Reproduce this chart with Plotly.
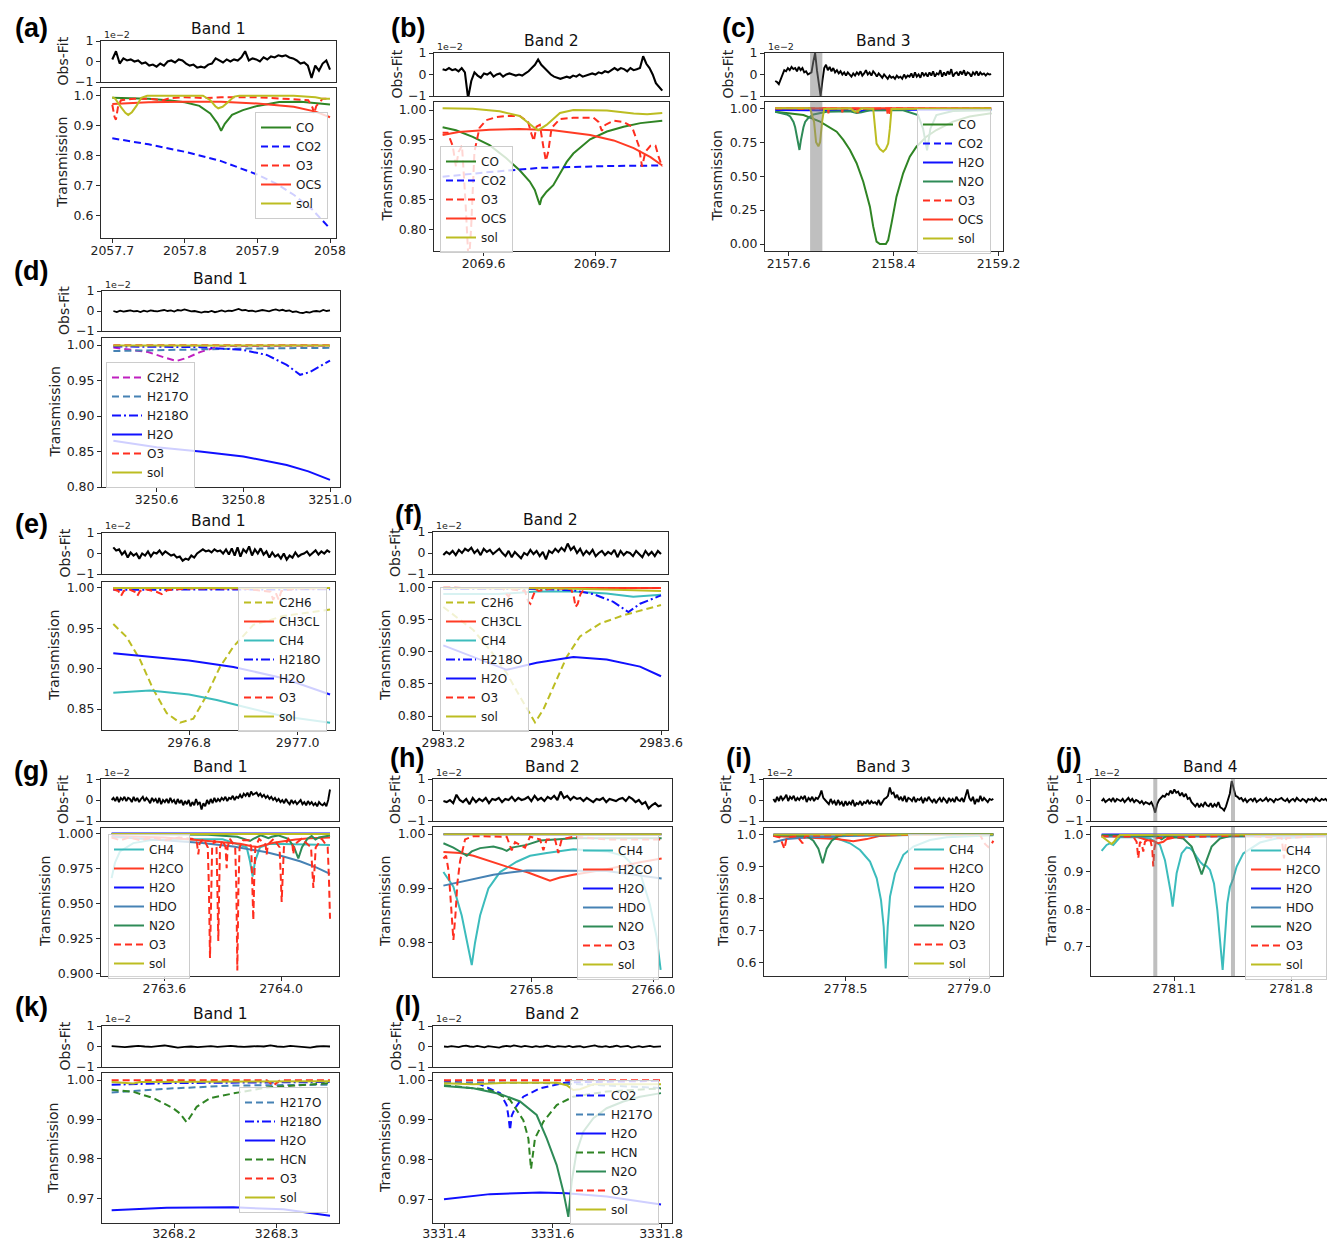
import numpy as np
import plotly.graph_objects as go

W, H = 1327, 1241          # target picture size
FW, FH = W, H
FONT = "DejaVu Sans"

# ====================== DATA ======================
res_yticks = [-1, 0, 1]
res_ylabels = ["\u22121", "0", "1"]

# ---- (a) Band 1 ----
a_xticks = [2057.7, 2057.8, 2057.9, 2058.0]
a_xlabels = ["2057.7", "2057.8", "2057.9", "2058"]
a_yticks = [0.6, 0.7, 0.8, 0.9, 1.0]
a_ylabels = ["0.6", "0.7", "0.8", "0.9", "1.0"]
a_res_span = [2057.70, 2058.00]
a_res = [0.1, 0.5, -0.1, 0.15, 0.05, 0.1, 0.0, 0.05, -0.1, -0.05, -0.2, -0.15, -0.25, -0.1, -0.2, 0.0,
         0.05, -0.05, 0.1, 0.05, -0.1, -0.2, -0.15, -0.3, -0.25, -0.3, -0.15, -0.1, 0.15, 0.05, -0.05,
         0.1, 0.0, 0.1, 0.05, 0.2, 0.5, 0.05, 0.15, 0.1, 0.0, 0.2, 0.1, 0.25, 0.2, 0.3, 0.25, 0.3, 0.2,
         0.15, 0.05, -0.1, -0.05, -0.2, -0.8, -0.2, -0.45, -0.1, 0.05, -0.4]
a_CO = [(2057.70, 0.993), (2057.75, 0.99), (2057.78, 0.984), (2057.80, 0.978), (2057.82, 0.966),
        (2057.835, 0.941), (2057.845, 0.908), (2057.85, 0.883), (2057.855, 0.906), (2057.865, 0.936),
        (2057.88, 0.952), (2057.90, 0.966), (2057.93, 0.979), (2057.96, 0.98), (2058.00, 0.971)]
a_CO2 = [(2057.70, 0.858), (2057.75, 0.838), (2057.80, 0.813), (2057.85, 0.782), (2057.90, 0.737),
         (2057.925, 0.708), (2057.95, 0.670), (2057.975, 0.622), (2058.00, 0.557)]
a_O3 = [(2057.700, 0.97), (2057.703, 0.93), (2057.705, 0.92), (2057.708, 0.965), (2057.712, 0.985),
        (2057.73, 0.99), (2057.75, 0.99), (2057.77, 0.985), (2057.78, 0.992), (2057.80, 0.995),
        (2057.83, 0.992), (2057.85, 0.995), (2057.90, 0.995), (2057.94, 0.99), (2057.97, 0.985),
        (2057.976, 0.96), (2057.978, 0.94), (2057.981, 0.965), (2057.99, 0.99), (2058.0, 0.99)]
a_OCS = [(2057.70, 0.972), (2057.75, 0.978), (2057.80, 0.98), (2057.85, 0.98), (2057.90, 0.974),
         (2057.95, 0.963), (2057.98, 0.947), (2058.00, 0.928)]
a_sol = [(2057.700, 0.995), (2057.704, 0.99), (2057.712, 0.962), (2057.718, 0.943), (2057.722, 0.936),
         (2057.727, 0.945), (2057.733, 0.965), (2057.740, 0.993), (2057.748, 1.0), (2057.825, 1.0),
         (2057.835, 0.985), (2057.842, 0.965), (2057.846, 0.958), (2057.852, 0.963), (2057.86, 0.98),
         (2057.868, 0.997), (2057.875, 1.0), (2057.95, 1.0), (2057.98, 0.995), (2057.99, 0.99),
         (2058.0, 0.99)]

# ---- (b) Band 2 ----
b_xticks = [2069.6, 2069.7]
b_xlabels = ["2069.6", "2069.7"]
b_yticks = [0.80, 0.85, 0.90, 0.95, 1.00]
b_ylabels = ["0.80", "0.85", "0.90", "0.95", "1.00"]
b_res_span = [2069.5635, 2069.7596]
b_res = [0.25, 0.2, 0.3, 0.2, 0.25, 0.15, 0.3, 0.1, -1.1, -0.3, 0.1, -0.05, -0.15, 0.05, 0.0, 0.1, -0.1,
         0.0, 0.05, -0.1, 0.0, 0.05, 0.0, -0.05, 0.0, -0.05, 0.05, 0.15, 0.3, 0.45, 0.7, 0.45, 0.3, 0.15,
         0.0, -0.1, -0.15, -0.2, -0.15, -0.1, -0.15, -0.05, -0.1, 0.0, -0.1, -0.05, 0.0, 0.05, 0.0, 0.1,
         0.05, 0.15, 0.1, 0.2, 0.3, 0.2, 0.3, 0.25, 0.15, 0.3, 0.2, 0.25, 0.3, 0.85, 0.5, 0.3, 0.0, -0.4,
         -0.6, -0.75]
b_CO = [(2069.5635, 0.971), (2069.5754, 0.966), (2069.5904, 0.955), (2069.6054, 0.941),
        (2069.6204, 0.919), (2069.6323, 0.899), (2069.6413, 0.88), (2069.6458, 0.866),
        (2069.6488, 0.849), (2069.6503, 0.841), (2069.6518, 0.852), (2069.6563, 0.863),
        (2069.6623, 0.874), (2069.6683, 0.894), (2069.6743, 0.913), (2069.6802, 0.927),
        (2069.6952, 0.951), (2069.7102, 0.964), (2069.7251, 0.972), (2069.7401, 0.978),
        (2069.7596, 0.982)]
b_CO2 = [(2069.5635, 0.888), (2069.6054, 0.896), (2069.6503, 0.903), (2069.7102, 0.906),
         (2069.7596, 0.907)]
b_O3 = [(2069.5635, 0.962), (2069.568, 0.962), (2069.5725, 0.94), (2069.5754, 0.905),
        (2069.5778, 0.93), (2069.5808, 0.94), (2069.5838, 0.85), (2069.5868, 0.74), (2069.5889, 0.80),
        (2069.5919, 0.93), (2069.5964, 0.97), (2069.6024, 0.983), (2069.6114, 0.988),
        (2069.6204, 0.99), (2069.6323, 0.99), (2069.6398, 0.98), (2069.6428, 0.96), (2069.6449, 0.948),
        (2069.6473, 0.972), (2069.6503, 0.975), (2069.6533, 0.94), (2069.6557, 0.915),
        (2069.6578, 0.93), (2069.6608, 0.97), (2069.6683, 0.985), (2069.6802, 0.987),
        (2069.6982, 0.987), (2069.7027, 0.98), (2069.7057, 0.965), (2069.7087, 0.975),
        (2069.7162, 0.982), (2069.7251, 0.98), (2069.7326, 0.972), (2069.7386, 0.94),
        (2069.7416, 0.905), (2069.7446, 0.93), (2069.7491, 0.94), (2069.7536, 0.94),
        (2069.7566, 0.92), (2069.7596, 0.905)]
b_OCS = [(2069.5635, 0.958), (2069.5778, 0.963), (2069.6054, 0.967), (2069.6323, 0.968),
         (2069.6623, 0.966), (2069.6952, 0.958), (2069.7162, 0.949), (2069.7341, 0.936),
         (2069.7491, 0.921), (2069.7596, 0.907)]
b_sol = [(2069.5635, 1.003), (2069.5904, 1.002), (2069.6144, 0.998), (2069.6323, 0.99),
         (2069.6443, 0.972), (2069.6488, 0.966), (2069.6563, 0.975), (2069.6683, 0.995),
         (2069.6802, 1.0), (2069.7102, 0.999), (2069.7341, 0.994), (2069.7461, 0.993),
         (2069.7596, 0.995)]

# ---- (c) Band 3 ----
c_xticks = [2157.6, 2158.4, 2159.2]
c_xlabels = ["2157.6", "2158.4", "2159.2"]
c_yticks = [0.0, 0.25, 0.5, 0.75, 1.0]
c_ylabels = ["0.00", "0.25", "0.50", "0.75", "1.00"]
c_bands = [(2157.7646, 2157.858)]
c_res_span = [2157.4987, 2159.1443]
c_res = [-0.3, -0.35, -0.45, -0.2, 0.05, 0.2, 0.15, 0.3, 0.2, 0.35,
         0.25, 0.3, 0.15, 0.35, 0.2, 0.3, 0.1, 0.15, 0.0, 0.05,
         0.1, 0.6, 1.0, 0.2, -0.5, -1.0, -0.3, 0.3, 0.45, 0.2,
         0.35, 0.15, 0.3, 0.1, 0.2, 0.05, 0.15, 0.0, 0.1, -0.05,
         0.1, 0.0, -0.1, 0.05, -0.05, 0.1, 0.0, 0.15, -0.05, 0.05,
         0.2, 0.0, 0.1, -0.05, 0.15, 0.05, -0.1, 0.05, -0.05, -0.15,
         0.0, -0.1, -0.2, -0.05, -0.15, -0.1, -0.2, -0.05, -0.15, -0.1,
         -0.2, 0.0, -0.15, -0.05, -0.1, 0.05, -0.15, 0.1, -0.1, 0.0,
         -0.15, 0.1, -0.05, 0.05, -0.1, 0.1, -0.05, 0.15, -0.1, 0.05,
         0.0, 0.2, -0.1, 0.1, -0.05, 0.15, 0.0, 0.25, -0.1, 0.05,
         0.1, -0.05, 0.15, 0.0, 0.2, -0.05, 0.1, 0.05, -0.1, 0.1,
         0.0, 0.15, -0.05, 0.1, 0.0, 0.05, -0.05, 0.05, 0.0, 0.02]
c_CO = [(2157.4987, 0.975), (2157.7139, 0.951), (2157.8405, 0.902), (2157.9671, 0.828),
        (2158.0177, 0.767), (2158.0684, 0.693), (2158.119, 0.595), (2158.1696, 0.459),
        (2158.2203, 0.275), (2158.2456, 0.128), (2158.2709, 0.017), (2158.2962, 0.0),
        (2158.3418, 0.0), (2158.3595, 0.029), (2158.3848, 0.152), (2158.4228, 0.349),
        (2158.4734, 0.521), (2158.5241, 0.644), (2158.5747, 0.717), (2158.6506, 0.791),
        (2158.7266, 0.840), (2158.8532, 0.902), (2158.9797, 0.939), (2159.1443, 0.963)]
c_CO2 = [(2157.4987, 0.995), (2159.1443, 0.996)]
c_H2O = [(2157.4987, 0.988), (2157.9, 0.987), (2158.05, 0.983), (2158.12, 0.975), (2158.2, 0.985),
         (2158.6, 0.99), (2159.1443, 0.99)]
c_N2O = [(2157.4987, 0.975), (2157.5873, 0.955), (2157.6127, 0.94), (2157.638, 0.90), (2157.6506, 0.86),
         (2157.6633, 0.80), (2157.6734, 0.76), (2157.6835, 0.693), (2157.6937, 0.76), (2157.7013, 0.80),
         (2157.7139, 0.86), (2157.7266, 0.90), (2157.7519, 0.93), (2157.7899, 0.955), (2157.8911, 0.975),
         (2158.0684, 0.978), (2158.119, 0.965), (2158.157, 0.97), (2158.2203, 0.985),
         (2158.4734, 0.985), (2158.5873, 0.95), (2158.6253, 0.85), (2158.6557, 0.69),
         (2158.681, 0.85), (2158.7266, 0.95), (2158.8532, 0.98), (2159.1443, 0.985)]
c_O3 = [(2157.4987, 0.998), (2157.6, 1.0), (2157.7, 0.995), (2157.75, 1.0), (2157.9, 0.998),
        (2158.0, 1.0), (2158.2, 0.996), (2158.4, 1.0), (2158.8, 0.997), (2159.1443, 1.0)]
c_OCS = [(2157.4987, 1.0), (2157.90, 1.0), (2157.9038, 0.963), (2157.908, 1.0), (2158.006, 1.0),
         (2158.0101, 0.97), (2158.014, 1.0), (2158.122, 1.0), (2158.1266, 0.965), (2158.131, 1.0),
         (2158.35, 1.0), (2158.3544, 0.96), (2158.359, 1.0), (2158.368, 1.0), (2158.3722, 0.958),
         (2158.376, 1.0), (2159.1443, 1.0)]
c_sol = [(2157.4987, 1.0), (2157.7646, 1.0), (2157.7949, 0.9), (2157.8101, 0.75), (2157.8278, 0.72),
         (2157.8405, 0.75), (2157.8557, 0.9), (2157.8709, 0.995), (2158.0684, 1.0), (2158.1063, 0.975),
         (2158.1316, 0.98), (2158.157, 1.0), (2158.2456, 0.995), (2158.2582, 0.85), (2158.2709, 0.74),
         (2158.2962, 0.70), (2158.3215, 0.68), (2158.3418, 0.70), (2158.3595, 0.74), (2158.3722, 0.85),
         (2158.3848, 0.995), (2159.1443, 1.0)]

# ---- (d) Band 1 ----
d_xticks = [3250.6, 3250.8, 3251.0]
d_xlabels = ["3250.6", "3250.8", "3251.0"]
d_yticks = [0.80, 0.85, 0.90, 0.95, 1.00]
d_ylabels = ["0.80", "0.85", "0.90", "0.95", "1.00"]
d_res_span = [3250.5, 3251.0]
d_res = [0.0, -0.05, 0.02, -0.03, 0.0, 0.03, -0.02, 0.0, -0.05, 0.02, -0.03, 0.03, 0.0, -0.02, 0.02, 0.05,
         0.0, 0.03, -0.03, 0.05, 0.02, 0.08, 0.03, -0.02, 0.0, -0.05, -0.08, -0.03, -0.05, 0.0, -0.06,
         -0.02, 0.03, -0.03, 0.02, 0.0, 0.05, 0.1, 0.03, 0.05, 0.0, 0.02, -0.03, 0.0, 0.05, 0.02, -0.02,
         0.04, 0.08, 0.02, 0.06, 0.0, 0.03, -0.05, -0.02, -0.08, -0.1, -0.05, -0.08, -0.02, 0.0, -0.03,
         0.05, 0.0, 0.03]
d_C2H2 = [(3250.5, 0.9965), (3250.58, 0.99), (3250.62, 0.982), (3250.646, 0.9775), (3250.67, 0.982),
          (3250.70, 0.99), (3250.746, 0.9985), (3251.0, 0.999)]
d_H217O = [(3250.5, 0.9915), (3250.6, 0.993), (3250.8, 0.995), (3251.0, 0.996)]
d_H218O = [(3250.5, 0.998), (3250.7, 0.997), (3250.8, 0.993), (3250.854, 0.986), (3250.9, 0.972),
           (3250.931, 0.958), (3250.954, 0.962), (3251.0, 0.978)]
d_H2O = [(3250.5, 0.865), (3250.6, 0.856), (3250.7, 0.85), (3250.8, 0.843), (3250.9, 0.831),
         (3250.95, 0.822), (3251.0, 0.81)]
d_O3 = [(3250.5, 0.9998), (3251.0, 0.9998)]
d_sol = [(3250.5, 0.9993), (3251.0, 0.9993)]

# ---- (e) Band 1 ----
e_xticks = [2976.8, 2977.0]
e_xlabels = ["2976.8", "2977.0"]
e_yticks = [0.85, 0.90, 0.95, 1.00]
e_ylabels = ["0.85", "0.90", "0.95", "1.00"]
e_res_span = [2976.6607, 2977.0595]
e_res = [0.3, 0.15, 0.2, -0.05, 0.1, -0.2, 0.05, -0.1, 0.0, -0.25, 0.0, -0.1, 0.1, -0.15, 0.05, 0.0, 0.15,
         -0.05, 0.1, 0.0, -0.1, -0.05, -0.2, -0.15, -0.35, -0.25, -0.3, -0.1, -0.2, 0.0, 0.1, 0.2, 0.1,
         0.15, 0.05, 0.2, 0.1, 0.15, 0.0, 0.2, -0.05, 0.25, -0.1, 0.3, -0.15, 0.2, 0.05, 0.35, -0.1, 0.2,
         0.0, 0.25, -0.05, 0.1, -0.2, 0.05, -0.15, -0.05, -0.25, 0.0, -0.3, -0.1, -0.2, 0.05, -0.15, -0.05,
         0.0, 0.1, -0.1, 0.05, 0.15, -0.05, 0.1, 0.0, 0.15, 0.05]
e_C2H6 = [(2976.6607, 0.955), (2976.6853, 0.939), (2976.7098, 0.911), (2976.7344, 0.874),
          (2976.7589, 0.845), (2976.7834, 0.833), (2976.808, 0.838), (2976.8325, 0.867),
          (2976.857, 0.902), (2976.8816, 0.927), (2976.9184, 0.954), (2976.9736, 0.965),
          (2977.0595, 0.973)]
e_CH3CL = [(2976.6607, 0.9995), (2977.0595, 0.9995)]
e_CH4 = [(2976.6607, 0.870), (2976.728, 0.873), (2976.8, 0.868), (2976.851, 0.861), (2976.912, 0.851),
         (2976.973, 0.841), (2977.0595, 0.833)]
e_H218O = [(2976.6607, 0.9975), (2977.0595, 0.998)]
e_H2O = [(2976.6607, 0.919), (2976.8, 0.91), (2976.8816, 0.902), (2976.9736, 0.888), (2977.0595, 0.868)]
e_O3 = [(2976.6607, 0.998), (2976.67, 0.996), (2976.675, 0.99), (2976.68, 0.996), (2976.69, 0.998),
        (2976.70, 0.995), (2976.705, 0.99), (2976.71, 0.996), (2976.72, 0.998), (2976.74, 0.995),
        (2976.75, 0.992), (2976.76, 0.997), (2976.78, 0.998), (2976.80, 0.999), (2976.90, 0.999),
        (2976.95, 0.995), (2976.955, 0.985), (2976.96, 0.993), (2976.965, 0.985), (2976.97, 0.996),
        (2977.0, 0.999), (2977.0595, 0.999)]
e_sol = [(2976.6607, 0.9995), (2977.0595, 0.9995)]

# ---- (f) Band 2 ----
f_xticks = [2983.2, 2983.4, 2983.6]
f_xlabels = ["2983.2", "2983.4", "2983.6"]
f_yticks = [0.80, 0.85, 0.90, 0.95, 1.00]
f_ylabels = ["0.80", "0.85", "0.90", "0.95", "1.00"]
f_res_span = [2983.2, 2983.6]
f_res = [-0.1, 0.05, -0.05, 0.1, -0.1, 0.15, 0.0, 0.2, 0.1, 0.25, 0.0, 0.15, -0.1, 0.2, 0.05, 0.15, -0.05,
         0.1, 0.2, 0.0, -0.15, 0.1, -0.2, 0.05, -0.1, -0.25, 0.0, -0.1, 0.15, -0.05, 0.1, -0.15, 0.05,
         -0.3, 0.1, 0.0, 0.2, 0.05, 0.25, 0.1, 0.45, 0.15, 0.3, 0.0, 0.2, -0.1, 0.1, -0.05, 0.15, -0.15,
         0.0, 0.1, -0.1, 0.05, -0.05, 0.15, -0.2, 0.1, -0.1, 0.05, 0.0, -0.15, 0.1, -0.05, -0.2, 0.1,
         -0.1, 0.05, -0.15, 0.1, -0.05]
f_C2H6 = [(2983.2, 0.970), (2983.2551, 0.934), (2983.2858, 0.903), (2983.3164, 0.867), (2983.3409, 0.830),
          (2983.3593, 0.804), (2983.3685, 0.790), (2983.3838, 0.810), (2983.4022, 0.846),
          (2983.4267, 0.892), (2983.4512, 0.924), (2983.488, 0.944), (2983.5309, 0.957),
          (2983.6, 0.973)]
f_CH3CL = [(2983.2, 0.9995), (2983.6, 0.9995)]
f_CH4 = [(2983.2, 0.99), (2983.3, 0.99), (2983.3716, 0.994), (2983.439, 0.994), (2983.5, 0.991),
         (2983.549, 0.986), (2983.6, 0.989)]
f_H218O = [(2983.2, 0.998), (2983.3716, 0.998), (2983.439, 0.996), (2983.4757, 0.99), (2983.5125, 0.978),
           (2983.5401, 0.962), (2983.5615, 0.975), (2983.6, 0.988)]
f_H2O = [(2983.2, 0.91), (2983.2551, 0.892), (2983.3164, 0.872), (2983.3716, 0.883), (2983.439, 0.892),
         (2983.5002, 0.888), (2983.5615, 0.877), (2983.6, 0.862)]
f_O3 = [(2983.2, 1.0), (2983.31, 0.999), (2983.316, 0.99), (2983.32, 0.986), (2983.326, 0.997),
        (2983.35, 0.995), (2983.356, 0.978), (2983.36, 0.975), (2983.364, 0.985), (2983.37, 0.998),
        (2983.375, 0.995), (2983.40, 0.999), (2983.435, 0.998), (2983.44, 0.985), (2983.443, 0.97),
        (2983.447, 0.975), (2983.452, 0.99), (2983.46, 0.999), (2983.6, 0.9995)]
f_sol = [(2983.2, 0.9995), (2983.4, 0.999), (2983.5, 0.997), (2983.6, 0.995)]

# ---- (g) Band 1 ----
g_xticks = [2763.6, 2764.0]
g_xlabels = ["2763.6", "2764.0"]
g_yticks = [0.900, 0.925, 0.950, 0.975, 1.000]
g_ylabels = ["0.900", "0.925", "0.950", "0.975", "1.000"]
g_res_span = [2763.4194, 2764.168]
g_res = [0.0, 0.1, -0.05, 0.15, -0.1, 0.1, 0.0, 0.15, -0.05, 0.1,
         0.05, -0.1, 0.15, -0.05, 0.1, -0.1, 0.05, 0.15, -0.05, 0.1,
         0.0, -0.15, 0.1, -0.05, 0.05, -0.15, 0.1, -0.2, 0.0, -0.1,
         0.05, -0.15, 0.1, -0.1, 0.0, -0.2, 0.05, -0.15, 0.0, -0.25,
         -0.05, -0.2, 0.0, -0.3, -0.1, -0.25, 0.05, -0.2, -0.1, -0.45,
         -0.15, -0.3, 0.0, -0.2, 0.05, -0.15, 0.1, -0.1, 0.05, -0.05,
         0.1, 0.0, 0.15, -0.05, 0.1, 0.05, 0.2, 0.0, 0.15, 0.1,
         0.25, 0.1, 0.3, 0.2, 0.35, 0.15, 0.4, 0.25, 0.3, 0.35,
         0.2, 0.3, 0.15, 0.25, 0.1, 0.2, 0.05, 0.15, 0.0, 0.1,
         -0.05, 0.05, -0.1, 0.0, -0.15, 0.05, -0.1, -0.2, 0.0, -0.15,
         -0.05, -0.2, -0.1, 0.0, -0.2, -0.1, -0.25, -0.05, -0.2, -0.1,
         -0.25, -0.15, -0.3, -0.1, -0.2, -0.25, -0.15, -0.3, 0.0, 0.5]
g_CH4 = [(2763.4194, 0.968), (2763.4309, 0.979), (2763.448, 0.987), (2763.4937, 0.993), (2763.55, 0.995),
         (2763.65, 0.9957), (2763.80, 0.9957), (2763.8823, 0.99), (2763.8937, 0.98), (2763.9029, 0.969),
         (2763.9109, 0.98), (2763.928, 0.99), (2763.9623, 0.9925), (2764.05, 0.992), (2764.168, 0.9917)]
g_H2CO = [(2763.4194, 0.998), (2763.60, 0.997), (2763.7109, 0.9952), (2763.75, 0.9945), (2763.80, 0.994),
          (2763.8594, 0.9925), (2763.90, 0.9908), (2763.92, 0.9902), (2763.94, 0.9915), (2763.98, 0.9935),
          (2764.05, 0.9955), (2764.10, 0.9965), (2764.168, 0.997)]
g_H2O = [(2763.4194, 0.9998), (2764.168, 0.9998)]
g_HDO = [(2763.4194, 0.9975), (2763.5166, 0.996), (2763.608, 0.995), (2763.7223, 0.9933),
         (2763.8366, 0.9905), (2763.9509, 0.9865), (2764.0023, 0.9838), (2764.0651, 0.98),
         (2764.1223, 0.9755), (2764.168, 0.971)]
g_N2O = [(2763.4194, 0.9995), (2763.75, 0.999), (2763.85, 0.9975), (2763.88, 0.9955), (2763.8937, 0.9945),
         (2763.905, 0.996), (2763.93, 0.9985), (2763.945, 0.9975), (2763.9566, 0.9965), (2763.968, 0.9975),
         (2763.99, 0.9985), (2764.025, 0.996), (2764.045, 0.99), (2764.0594, 0.982), (2764.072, 0.99),
         (2764.09, 0.996), (2764.105, 0.998), (2764.118, 0.9955), (2764.13, 0.997), (2764.168, 0.9985)]
g_O3 = [(2763.4194, 0.997), (2763.45, 0.995), (2763.48, 0.997), (2763.52, 0.995), (2763.56, 0.997),
        (2763.60, 0.995), (2763.65, 0.997), (2763.70, 0.996), (2763.712, 0.993), (2763.7166, 0.985),
        (2763.721, 0.993), (2763.735, 0.996), (2763.749, 0.99), (2763.753, 0.96), (2763.7566, 0.911),
        (2763.760, 0.96), (2763.764, 0.99), (2763.772, 0.995), (2763.779, 0.99), (2763.782, 0.96),
        (2763.7851, 0.923), (2763.788, 0.96), (2763.791, 0.99), (2763.80, 0.995), (2763.810, 0.99),
        (2763.8137, 0.975), (2763.817, 0.99), (2763.825, 0.996), (2763.843, 0.99), (2763.847, 0.96),
        (2763.8503, 0.902), (2763.854, 0.96), (2763.858, 0.99), (2763.87, 0.995), (2763.89, 0.995),
        (2763.898, 0.99), (2763.902, 0.965), (2763.9051, 0.938), (2763.908, 0.965), (2763.912, 0.99),
        (2763.925, 0.996), (2763.947, 0.992), (2763.9509, 0.985), (2763.955, 0.992), (2763.975, 0.996),
        (2763.995, 0.99), (2763.999, 0.97), (2764.0023, 0.951), (2764.006, 0.97), (2764.01, 0.99),
        (2764.025, 0.996), (2764.039, 0.992), (2764.0423, 0.985), (2764.046, 0.992), (2764.07, 0.996),
        (2764.103, 0.99), (2764.107, 0.975), (2764.1109, 0.961), (2764.115, 0.975), (2764.119, 0.99),
        (2764.14, 0.996), (2764.16, 0.99), (2764.164, 0.97), (2764.168, 0.939)]
g_sol = [(2763.4194, 0.9995), (2764.168, 0.9995)]

# ---- (h) Band 2 ----
h_xticks = [2765.8, 2766.0]
h_xlabels = ["2765.8", "2766.0"]
h_yticks = [0.98, 0.99, 1.00]
h_ylabels = ["0.98", "0.99", "1.00"]
h_res_span = [2765.6548, 2766.0137]
h_res = [-0.05, -0.1, 0.0, -0.15, 0.25, 0.0, -0.1, 0.05, -0.2, 0.1, -0.1, 0.05, -0.05, 0.1, -0.15, 0.05,
         0.0, 0.1, -0.1, 0.05, 0.0, 0.15, -0.05, 0.1, 0.0, 0.05, 0.15, -0.05, 0.2, 0.0, 0.1, -0.05, 0.15,
         0.05, 0.2, 0.0, 0.4, 0.1, 0.2, 0.0, 0.15, 0.05, 0.1, -0.05, 0.1, 0.0, -0.1, 0.05, 0.0, 0.1, -0.1,
         0.05, 0.0, -0.05, 0.05, 0.1, -0.05, 0.15, 0.05, -0.1, 0.0, -0.2, -0.1, -0.4, -0.25, -0.15, -0.3,
         -0.25]
h_CH4 = [(2765.6548, 0.993), (2765.6712, 0.9903), (2765.6849, 0.985), (2765.6932, 0.9805),
         (2765.7014, 0.9759), (2765.7068, 0.98), (2765.7151, 0.985), (2765.7288, 0.99),
         (2765.7479, 0.993), (2765.7753, 0.9949), (2765.7973, 0.996), (2765.8247, 0.9965),
         (2765.8685, 0.9972), (2765.9233, 0.9968), (2765.9507, 0.996), (2765.9781, 0.993),
         (2765.9945, 0.987), (2766.0055, 0.981), (2766.0121, 0.975)]
h_H2CO = [(2765.6548, 0.9967), (2765.6822, 0.9965), (2765.7041, 0.996), (2765.7315, 0.995),
          (2765.7589, 0.994), (2765.7918, 0.993), (2765.8301, 0.9914), (2765.8466, 0.992),
          (2765.8685, 0.9925), (2765.9233, 0.9935), (2765.9781, 0.9948), (2766.0137, 0.9955)]
h_H2O = [(2765.6548, 0.99995), (2766.0137, 0.99995)]
h_HDO = [(2765.6548, 0.9905), (2765.6932, 0.9915), (2765.737, 0.9925), (2765.7918, 0.9933),
         (2765.8685, 0.9933), (2765.9233, 0.9932), (2766.0137, 0.9918)]
h_N2O = [(2765.6548, 0.9983), (2765.6712, 0.9975), (2765.6849, 0.9966), (2765.6932, 0.996),
         (2765.7014, 0.9968), (2765.7151, 0.9974), (2765.737, 0.9977), (2765.7507, 0.9973),
         (2765.7589, 0.9969), (2765.7671, 0.9975), (2765.7918, 0.998), (2765.8137, 0.9988),
         (2765.8685, 0.9992), (2766.0137, 0.9992)]
h_O3 = [(2765.6548, 0.9955), (2765.6592, 0.996), (2765.6636, 0.993), (2765.6674, 0.986), (2765.6712, 0.9805),
        (2765.6745, 0.985), (2765.6778, 0.991), (2765.6822, 0.995), (2765.6904, 0.999), (2765.7041, 0.9996),
        (2765.7589, 0.9995), (2765.7671, 0.997), (2765.7726, 0.9985), (2765.789, 0.9975),
        (2765.7973, 0.9995), (2765.8137, 0.999), (2765.8192, 0.997), (2765.8247, 0.999),
        (2765.8384, 0.999), (2765.8438, 0.9965), (2765.8493, 0.999), (2765.8685, 0.9995),
        (2765.9233, 0.999), (2766.0137, 0.999)]
h_sol = [(2765.6548, 0.99995), (2766.0137, 0.99995)]

# ---- (i) Band 3 ----
i_xticks = [2778.5, 2779.0]
i_xlabels = ["2778.5", "2779.0"]
i_yticks = [0.6, 0.7, 0.8, 0.9, 1.0]
i_ylabels = ["0.6", "0.7", "0.8", "0.9", "1.0"]
i_res_span = [2778.2068, 2779.0986]
i_res = [0.05, -0.1, 0.15, -0.05, 0.2, 0.0, 0.1, 0.25, -0.05, 0.15,
         0.05, 0.2, -0.05, 0.1, 0.0, 0.15, 0.05, 0.2, -0.1, 0.1,
         0.0, 0.15, -0.05, 0.1, 0.05, 0.2, 0.45, 0.1, 0.0, -0.1,
         -0.2, 0.05, -0.15, -0.05, -0.25, 0.0, -0.2, -0.1, -0.3, -0.05,
         -0.25, -0.1, -0.2, 0.0, -0.3, -0.15, -0.2, -0.05, -0.25, -0.1,
         -0.15, 0.0, -0.2, -0.05, -0.15, -0.1, -0.2, 0.0, -0.25, -0.1,
         0.05, 0.1, 0.2, 0.6, 0.3, 0.35, 0.1, 0.25, 0.0, 0.15,
         -0.05, 0.2, -0.1, 0.1, 0.05, -0.05, 0.15, -0.1, 0.05, 0.0,
         0.1, -0.15, 0.1, -0.05, 0.15, 0.0, -0.1, 0.05, -0.15, 0.0,
         0.1, -0.1, 0.1, 0.0, -0.15, 0.1, -0.05, 0.05, -0.1, 0.15,
         0.0, -0.05, 0.1, -0.1, 0.2, 0.5, 0.1, -0.05, 0.15, -0.2,
         0.05, -0.1, 0.2, -0.05, 0.1, 0.0, -0.1, 0.05, 0.0, 0.05]
i_CH4 = [(2778.2068, 0.995), (2778.3689, 0.993), (2778.4635, 0.9875), (2778.5176, 0.972),
         (2778.5581, 0.951), (2778.5986, 0.915), (2778.6257, 0.863), (2778.6432, 0.795),
         (2778.6541, 0.712), (2778.6622, 0.582), (2778.6703, 0.712), (2778.6797, 0.806),
         (2778.70, 0.878), (2778.7338, 0.936), (2778.7743, 0.962), (2778.8419, 0.982),
         (2778.9095, 0.991), (2779.0986, 0.997)]
i_H2CO = [(2778.2068, 0.995), (2778.3689, 0.99), (2778.4635, 0.985), (2778.5311, 0.978),
          (2778.5851, 0.985), (2778.6392, 0.995), (2778.7743, 0.999), (2779.0986, 1.0)]
i_H2O = [(2778.2068, 0.9995), (2779.0986, 0.9995)]
i_HDO = [(2778.2068, 0.975), (2778.2608, 0.985), (2778.3419, 0.99), (2778.5041, 0.995),
         (2778.7743, 0.998), (2779.0986, 0.999)]
i_N2O = [(2778.2068, 0.998), (2778.3419, 0.995), (2778.3689, 0.98), (2778.3892, 0.955), (2778.4068, 0.91),
         (2778.423, 0.955), (2778.4432, 0.98), (2778.4703, 0.995), (2778.5041, 0.999), (2779.0986, 1.0)]
i_O3 = [(2778.2068, 0.995), (2778.2338, 0.99), (2778.2514, 0.955), (2778.2608, 0.99), (2778.3014, 0.995),
        (2778.3257, 0.972), (2778.3351, 0.995), (2778.5041, 0.998), (2779.0446, 0.998),
        (2779.0649, 0.97), (2779.0784, 0.96), (2779.0919, 0.97), (2779.0986, 0.98)]
i_sol = [(2778.2068, 0.9995), (2779.0986, 0.9995)]

# ---- (j) Band 4 ----
j_xticks = [2781.1, 2781.8]
j_xlabels = ["2781.1", "2781.8"]
j_yticks = [0.7, 0.8, 0.9, 1.0]
j_ylabels = ["0.7", "0.8", "0.9", "1.0"]
j_bands = [(2780.974, 2780.998), (2781.44, 2781.464)]
j_res_span = [2780.664, 2782.03]
j_res = [-0.05, 0.05, -0.1, 0.0, 0.05, -0.05, 0.1, -0.1, 0.05, 0.0,
         -0.05, 0.05, -0.1, 0.0, 0.1, -0.05, 0.05, -0.1, 0.0, -0.05,
         -0.15, -0.05, -0.2, -0.1, -0.15, -0.2, -0.1, -0.3, -0.6, -0.2,
         0.0, 0.1, 0.2, 0.15, 0.3, 0.25, 0.45, 0.3, 0.5, 0.35,
         0.4, 0.2, 0.35, 0.15, 0.3, 0.05, 0.1, -0.1, -0.2, -0.3,
         -0.15, -0.35, -0.2, -0.3, -0.1, -0.25, -0.3, -0.15, -0.35, -0.2,
         -0.3, -0.1, -0.35, -0.4, -0.5, -0.3, 0.0, 0.3, 0.9, 0.5,
         0.2, 0.15, 0.05, 0.1, -0.05, 0.05, -0.1, 0.0, 0.05, -0.05,
         0.1, -0.1, 0.0, 0.05, -0.05, 0.0, 0.1, -0.05, 0.05, 0.0,
         -0.1, 0.05, 0.0, 0.05, 0.1, 0.0, -0.05, 0.05, -0.1, 0.0,
         0.05, -0.05, 0.1, 0.0, -0.05, 0.05, 0.0, -0.1, 0.05, 0.0,
         0.05, -0.05, 0.1, 0.0, -0.05, 0.05, 0.0, 0.05, -0.05, 0.0]
j_CH4 = [(2780.664, 0.9555), (2780.694, 0.9715), (2780.714, 0.976), (2780.734, 0.9715), (2780.774, 0.992),
         (2780.874, 0.992), (2780.954, 0.989), (2781.014, 0.9715), (2781.044, 0.931), (2781.064, 0.887),
         (2781.08, 0.842), (2781.09, 0.807), (2781.10, 0.842), (2781.114, 0.896), (2781.144, 0.949),
         (2781.174, 0.965), (2781.194, 0.963), (2781.214, 0.954), (2781.234, 0.94), (2781.254, 0.927),
         (2781.274, 0.918), (2781.294, 0.915), (2781.314, 0.905), (2781.338, 0.869), (2781.358, 0.798),
         (2781.374, 0.718), (2781.39, 0.638), (2781.404, 0.727), (2781.418, 0.816), (2781.434, 0.86),
         (2781.454, 0.882), (2781.474, 0.914), (2781.514, 0.949), (2781.614, 0.978), (2781.714, 0.989),
         (2782.03, 0.9955)]
j_H2CO = [(2780.664, 0.995), (2780.874, 0.994), (2780.934, 0.985), (2780.974, 0.982), (2781.004, 0.976),
          (2781.034, 0.98), (2781.054, 0.987), (2781.114, 0.993), (2781.194, 0.996), (2782.03, 0.998)]
j_H2O = [(2780.664, 0.9995), (2782.03, 0.9995)]
j_HDO = [(2780.664, 0.9938), (2782.03, 0.9938)]
j_N2O = [(2780.664, 0.998), (2780.994, 0.9955), (2781.024, 0.9866), (2781.054, 0.9955), (2781.154, 0.989),
         (2781.204, 0.967), (2781.234, 0.931), (2781.264, 0.893), (2781.294, 0.931), (2781.324, 0.967),
         (2781.374, 0.989), (2781.434, 0.9955), (2782.03, 0.998)]
j_O3 = [(2780.664, 0.995), (2780.854, 0.994), (2780.874, 0.98), (2780.884, 0.936), (2780.894, 0.98),
        (2780.904, 0.975), (2780.914, 0.954), (2780.924, 0.98), (2780.954, 0.99), (2780.968, 0.96),
        (2780.974, 0.914), (2780.98, 0.96), (2780.994, 0.99), (2781.514, 0.997), (2781.744, 0.99),
        (2781.758, 0.936), (2781.772, 0.99), (2782.03, 0.997)]
j_sol = [(2780.664, 0.995), (2780.694, 0.985), (2780.714, 0.977), (2780.724, 0.974), (2780.738, 0.98),
         (2780.754, 0.99), (2780.774, 0.998), (2782.03, 1.0)]

# ---- (k) Band 1 ----
k_xticks = [3268.2, 3268.3]
k_xlabels = ["3268.2", "3268.3"]
k_yticks = [0.97, 0.98, 0.99, 1.00]
k_ylabels = ["0.97", "0.98", "0.99", "1.00"]
k_res_span = [3268.1393, 3268.3519]
k_res = [0.02, 0.0, -0.03, 0.0, 0.03, 0.0, -0.02, 0.02, 0.05, 0.0, -0.05, -0.02, 0.0, -0.03, 0.0, 0.02,
         -0.02, 0.0, 0.03, 0.0, -0.02, 0.0, 0.02, 0.0, 0.05, 0.0, -0.02, 0.03, 0.0, -0.03, -0.05, 0.0,
         0.02, 0.0]
k_H217O = [(3268.1393, 0.9968), (3268.1929, 0.9978), (3268.2578, 0.9986), (3268.3519, 0.9988)]
k_H218O = [(3268.1393, 0.9988), (3268.1929, 0.9992), (3268.3519, 0.9995)]
k_H2O = [(3268.1393, 0.967), (3268.1929, 0.9676), (3268.2578, 0.9677), (3268.3065, 0.9672),
         (3268.3519, 0.9656)]
k_HCN = [(3268.1393, 0.9975), (3268.1604, 0.997), (3268.1799, 0.9954), (3268.1994, 0.9928),
         (3268.2058, 0.9915), (3268.2097, 0.9903), (3268.2123, 0.9893), (3268.2149, 0.9903),
         (3268.2188, 0.992), (3268.2221, 0.9932), (3268.2351, 0.9954), (3268.2578, 0.9966),
         (3268.2903, 0.9981), (3268.3519, 0.9992)]
k_O3 = [(3268.1393, 0.99995), (3268.2903, 0.99995), (3268.2968, 0.9986), (3268.3032, 0.99995),
        (3268.3519, 0.99995)]
k_sol = [(3268.1393, 0.9995), (3268.1539, 0.9992), (3268.1604, 0.9991), (3268.1669, 0.9995),
         (3268.3519, 0.9997)]

# ---- (l) Band 2 ----
l_xticks = [3331.4, 3331.6, 3331.8]
l_xlabels = ["3331.4", "3331.6", "3331.8"]
l_yticks = [0.97, 0.98, 0.99, 1.00]
l_ylabels = ["0.97", "0.98", "0.99", "1.00"]
l_res_span = [3331.4, 3331.8]
l_res = [0.0, -0.02, 0.02, 0.0, -0.03, 0.02, 0.04, 0.0, -0.02, 0.03, 0.0, -0.04, 0.02, 0.0, -0.03, -0.05,
         0.0, 0.03, 0.0, 0.05, 0.02, -0.02, 0.03, 0.0, -0.03, 0.02, -0.02, 0.0, 0.04, 0.0, -0.03, 0.02, 0.0,
         -0.02, 0.03, -0.03, 0.0, 0.02, -0.04, 0.0, 0.03, 0.05, 0.0, -0.02, 0.02, -0.03, 0.0, 0.04, -0.02,
         0.0, 0.03, -0.05, 0.0, 0.02, -0.03, 0.0, 0.03, -0.02, 0.0, 0.01]
l_CO2 = [(3331.4, 0.9998), (3331.4664, 0.9989), (3331.5032, 0.9967), (3331.5155, 0.9937),
         (3331.5186, 0.991), (3331.5217, 0.9874), (3331.5248, 0.991), (3331.5309, 0.9929),
         (3331.5462, 0.9958), (3331.577, 0.9979), (3331.6261, 0.9994), (3331.8, 0.9998)]
l_H217O = [(3331.4, 0.9994), (3331.577, 0.9993), (3331.6384, 0.999), (3331.8, 0.998)]
l_H2O = [(3331.4, 0.97), (3331.4848, 0.9713), (3331.577, 0.9717), (3331.6261, 0.9715), (3331.6998, 0.9707),
         (3331.8, 0.9687)]
l_HCN = [(3331.4, 0.9987), (3331.4848, 0.9975), (3331.5217, 0.995), (3331.5462, 0.9899), (3331.5555, 0.9853),
         (3331.5604, 0.9776), (3331.5677, 0.9853), (3331.5831, 0.9895), (3331.6077, 0.9937),
         (3331.6384, 0.9958), (3331.6998, 0.9971), (3331.8, 0.9979)]
l_N2O = [(3331.4, 0.9985), (3331.4541, 0.9979), (3331.5032, 0.9965), (3331.5401, 0.9946),
         (3331.5708, 0.9912), (3331.5893, 0.9853), (3331.6077, 0.9786), (3331.62, 0.9719),
         (3331.6292, 0.9656), (3331.6353, 0.9744), (3331.6446, 0.982), (3331.6568, 0.987),
         (3331.6753, 0.9904), (3331.6998, 0.9929), (3331.7306, 0.9946), (3331.7613, 0.9958),
         (3331.8, 0.9967)]
l_O3 = [(3331.4, 0.99995), (3331.8, 0.99995)]
l_sol = [(3331.4, 0.9992), (3331.4541, 0.9989), (3331.5155, 0.9993), (3331.6077, 0.9993),
         (3331.6261, 0.9987), (3331.6384, 0.9975), (3331.6507, 0.9977), (3331.6753, 0.9989),
         (3331.8, 0.9989)]

# ====================== STYLE / LAYOUT ======================
STYLE = {
    "CO": ("#2f8424", "solid"), "CO2": ("#1010ff", "7px,4px"), "O3": ("#ff2e1f", "7px,4px"),
    "OCS": ("#ff3b24", "solid"), "sol": ("#bcbd22", "solid"), "H2O": ("#1010ff", "solid"),
    "N2O": ("#2e8b57", "solid"), "C2H2": ("#c020c0", "7px,4px"), "H217O": ("#4682b4", "7px,4px"),
    "H218O": ("#1010ff", "9px,3px,2px,3px"), "C2H6": ("#bcbd22", "7px,4px"), "CH3CL": ("#ff3b24", "solid"),
    "CH4": ("#3cbcbc", "solid"), "H2CO": ("#ff3b24", "solid"), "HDO": ("#4682b4", "solid"),
    "HCN": ("#2f8424", "7px,4px"),
}

PANELS = [
    dict(tag="(a)", title="Band 1", box=(101, 336, 41, 82, 88, 238), xcal=(112.3, 2057.7, 330.0, 2058.0),
         ycal=(95.7, 1.0, 215.7, 0.6), xt=(a_xticks, a_xlabels), yt=(a_yticks, a_ylabels),
         res=(a_res_span, a_res), tagpos=(31, 28), legpos=(255, 112), tdx=39, bands=[], rw=2.1,
         series=[("CO", a_CO), ("CO2", a_CO2), ("O3", a_O3), ("OCS", a_OCS), ("sol", a_sol)]),
    dict(tag="(b)", title="Band 2", box=(434, 669, 53, 96, 102, 251), xcal=(483.5, 2069.6, 595.5, 2069.7),
         ycal=(110.0, 1.0, 229.3, 0.8), xt=(b_xticks, b_xlabels), yt=(b_yticks, b_ylabels),
         res=(b_res_span, b_res), tagpos=(408, 28), legpos=(440, 146), tdx=48, bands=[], rw=2.1,
         series=[("CO", b_CO), ("CO2", b_CO2), ("O3", b_O3), ("OCS", b_OCS), ("sol", b_sol)]),
    dict(tag="(c)", title="Band 3", box=(765, 1003, 53, 96, 102, 251), xcal=(788.5, 2157.6, 998.5, 2159.2),
         ycal=(108.3, 1.0, 244.0, 0.0), xt=(c_xticks, c_xlabels), yt=(c_yticks, c_ylabels),
         res=(c_res_span, c_res), tagpos=(738, 28), legpos=(917, 109), tdx=49, bands=c_bands, rw=1.9,
         series=[("CO", c_CO), ("CO2", c_CO2), ("H2O", c_H2O), ("N2O", c_N2O), ("O3", c_O3),
                 ("OCS", c_OCS), ("sol", c_sol)]),
    dict(tag="(d)", title="Band 1", box=(102, 340, 291, 331, 338, 487), xcal=(156.7, 3250.6, 330.0, 3251.0),
         ycal=(345.0, 1.0, 487.0, 0.8), xt=(d_xticks, d_xlabels), yt=(d_yticks, d_ylabels),
         res=(d_res_span, d_res), tagpos=(31, 271), legpos=(106, 362), tdx=48, bands=[], rw=1.8,
         series=[("C2H2", d_C2H2), ("H217O", d_H217O), ("H218O", d_H218O), ("H2O", d_H2O), ("O3", d_O3),
                 ("sol", d_sol)]),
    dict(tag="(e)", title="Band 1", box=(102, 335, 533, 574, 582, 730), xcal=(189.0, 2976.8, 297.7, 2977.0),
         ycal=(587.7, 1.0, 709.0, 0.85), xt=(e_xticks, e_xlabels), yt=(e_yticks, e_ylabels),
         res=(e_res_span, e_res), tagpos=(31, 524), legpos=(238, 587), tdx=48, bands=[], rw=2.1,
         series=[("C2H6", e_C2H6), ("CH3CL", e_CH3CL), ("CH4", e_CH4), ("H218O", e_H218O), ("H2O", e_H2O),
                 ("O3", e_O3), ("sol", e_sol)]),
    dict(tag="(f)", title="Band 2", box=(433, 668, 532, 574, 582, 730), xcal=(443.3, 2983.2, 661.0, 2983.6),
         ycal=(587.7, 1.0, 716.0, 0.8), xt=(f_xticks, f_xlabels), yt=(f_yticks, f_ylabels),
         res=(f_res_span, f_res), tagpos=(408, 515), legpos=(440, 587), tdx=48, bands=[], rw=2.1,
         series=[("C2H6", f_C2H6), ("CH3CL", f_CH3CL), ("CH4", f_CH4), ("H218O", f_H218O), ("H2O", f_H2O),
                 ("O3", f_O3), ("sol", f_sol)]),
    dict(tag="(g)", title="Band 1", box=(101, 339, 779, 821, 828, 976), xcal=(164.3, 2763.6, 281.0, 2764.0),
         ycal=(833.3, 1.0, 973.3, 0.9), xt=(g_xticks, g_xlabels), yt=(g_yticks, g_ylabels),
         res=(g_res_span, g_res), tagpos=(31, 771), legpos=(108, 834), tdx=56, bands=[], rw=1.9,
         series=[("CH4", g_CH4), ("H2CO", g_H2CO), ("H2O", g_H2O), ("HDO", g_HDO), ("N2O", g_N2O),
                 ("O3", g_O3), ("sol", g_sol)]),
    dict(tag="(h)", title="Band 2", box=(433, 672, 779, 821, 827, 977), xcal=(531.7, 2765.8, 653.3, 2766.0),
         ycal=(834.0, 1.0, 942.7, 0.98), xt=(h_xticks, h_xlabels), yt=(h_yticks, h_ylabels),
         res=(h_res_span, h_res), tagpos=(407, 758), legpos=(577, 835), tdx=48, bands=[], rw=2.1,
         series=[("CH4", h_CH4), ("H2CO", h_H2CO), ("H2O", h_H2O), ("HDO", h_HDO), ("N2O", h_N2O),
                 ("O3", h_O3), ("sol", h_sol)]),
    dict(tag="(i)", title="Band 3", box=(764, 1003, 779, 821, 828, 976), xcal=(845.7, 2778.5, 969.0, 2779.0),
         ycal=(834.3, 1.0, 962.7, 0.6), xt=(i_xticks, i_xlabels), yt=(i_yticks, i_ylabels),
         res=(i_res_span, i_res), tagpos=(738, 758), legpos=(908, 834), tdx=41, bands=[], rw=1.9,
         series=[("CH4", i_CH4), ("H2CO", i_H2CO), ("H2O", i_H2O), ("HDO", i_HDO), ("N2O", i_N2O),
                 ("O3", i_O3), ("sol", i_sol)]),
    dict(tag="(j)", title="Band 4", box=(1091, 1330, 779, 821, 827, 976), xcal=(1174.3, 2781.1, 1291.0, 2781.8),
         ycal=(834.3, 1.0, 946.7, 0.7), xt=(j_xticks, j_xlabels), yt=(j_yticks, j_ylabels),
         res=(j_res_span, j_res), tagpos=(1068, 758), legpos=(1241, 835), tdx=41, bands=j_bands, rw=1.9,
         series=[("CH4", j_CH4), ("H2CO", j_H2CO), ("H2O", j_H2O), ("HDO", j_HDO), ("N2O", j_N2O),
                 ("O3", j_O3), ("sol", j_sol)]),
    dict(tag="(k)", title="Band 1", box=(102, 339, 1026, 1067, 1073, 1223), xcal=(174.0, 3268.2, 276.7, 3268.3),
         ycal=(1080.0, 1.0, 1198.3, 0.97), xt=(k_xticks, k_xlabels), yt=(k_yticks, k_ylabels),
         res=(k_res_span, k_res), tagpos=(31, 1007), legpos=(239, 1087), tdx=49, bands=[], rw=1.8,
         series=[("H217O", k_H217O), ("H218O", k_H218O), ("H2O", k_H2O), ("HCN", k_HCN), ("O3", k_O3),
                 ("sol", k_sol)]),
    dict(tag="(l)", title="Band 2", box=(433, 672, 1026, 1067, 1073, 1223), xcal=(444.0, 3331.4, 661.0, 3331.8),
         ycal=(1080.0, 1.0, 1199.3, 0.97), xt=(l_xticks, l_xlabels), yt=(l_yticks, l_ylabels),
         res=(l_res_span, l_res), tagpos=(407, 1006), legpos=(570, 1080), tdx=48, bands=[], rw=1.8,
         series=[("CO2", l_CO2), ("H217O", l_H217O), ("H2O", l_H2O), ("HCN", l_HCN), ("N2O", l_N2O),
                 ("O3", l_O3), ("sol", l_sol)]),
]


def lin(p, p1, v1, p2, v2):
    return v1 + (p - p1) * (v2 - v1) / (p2 - p1)


def ref(kind, n):
    return kind if n == 1 else f"{kind}{n}"


def lkey(kind, n):
    return f"{kind}axis" if n == 1 else f"{kind}axis{n}"


def px_x(p):
    return p / FW


def px_y(p):
    return 1 - p / FH


LINE = "#2b2b2b"
TICKFONT = dict(family=FONT, size=12.5, color="#222222")
RIGHT_EDGE = FW
LEGEND_W = 90

fig = go.Figure()
layout = dict(width=FW, height=FH, margin=dict(l=0, r=0, t=0, b=0, pad=0, autoexpand=False),
              paper_bgcolor="white", plot_bgcolor="white", showlegend=True, hovermode=False)
annotations = []
shapes = []

for i, P in enumerate(PANELS):
    r, t = 2 * i + 1, 2 * i + 2
    L, R, rt, rb, tt, tb = P["box"]
    open_right = R > RIGHT_EDGE
    Reff = min(R, RIGHT_EDGE)
    xr = [lin(L, *P["xcal"]), lin(Reff, *P["xcal"])]
    yr = [lin(tb, *P["ycal"]), lin(tt, *P["ycal"])]
    common = dict(showgrid=False, zeroline=False, showline=True, linecolor=LINE, linewidth=1,
                  ticklen=4, tickwidth=1, tickcolor=LINE, tickfont=TICKFONT, automargin=False)
    dom_x = [px_x(L), min(px_x(Reff), 1.0)]
    xstand = -5 if tb > 1200 else -3
    layout[lkey("x", r)] = dict(domain=dom_x, range=xr, anchor=ref("y", r), mirror=True,
                                showticklabels=False, ticks="", **common)
    layout[lkey("y", r)] = dict(domain=[px_y(rb), px_y(rt)], range=[-1, 1], anchor=ref("x", r),
                                mirror=not open_right, tickvals=res_yticks, ticktext=res_ylabels,
                                ticks="outside", ticklabelstandoff=0, **common)
    layout[lkey("x", t)] = dict(domain=dom_x, range=xr, anchor=ref("y", t), mirror=True,
                                tickvals=P["xt"][0], ticktext=P["xt"][1], ticks="outside",
                                ticklabelstandoff=xstand, **common)
    layout[lkey("y", t)] = dict(domain=[px_y(tb), px_y(tt)], range=yr, anchor=ref("x", t),
                                mirror=not open_right, tickvals=P["yt"][0], ticktext=P["yt"][1],
                                ticks="outside", ticklabelstandoff=0, **common)
    legname = "legend" if i == 0 else f"legend{i + 1}"
    lx, lxa = px_x(P["legpos"][0]), "left"
    if P["legpos"][0] + LEGEND_W > RIGHT_EDGE:
        lx, lxa = 1.0, "right"
    layout[legname] = dict(x=lx, y=px_y(P["legpos"][1]), xanchor=lxa, yanchor="top",
                           bgcolor="rgba(255,255,255,0.8)", bordercolor="#cccccc", borderwidth=1,
                           font=dict(family=FONT, size=12, color="#1a1a1a"), itemwidth=30,
                           tracegroupgap=0, itemclick=False, itemdoubleclick=False)
    for name, pts in P["series"]:
        xs, ys = zip(*pts)
        color, dash = STYLE[name]
        fig.add_trace(go.Scatter(x=list(xs), y=list(ys), mode="lines", name=name,
                                 line=dict(color=color, dash=dash, width=2),
                                 xaxis=ref("x", t), yaxis=ref("y", t), legend=legname, showlegend=True))
    span, res = P["res"]
    fig.add_trace(go.Scatter(x=np.linspace(span[0], span[1], len(res)), y=res, mode="lines",
                             line=dict(color="black", width=P["rw"]), xaxis=ref("x", r), yaxis=ref("y", r),
                             showlegend=False))
    for (b0, b1) in P["bands"]:
        for n in (r, t):
            shapes.append(dict(type="rect", xref=ref("x", n), yref=f"{ref('y', n)} domain", x0=b0, x1=b1,
                               y0=0, y1=1, fillcolor="rgba(128,128,128,0.5)", line=dict(width=0),
                               layer="above"))
    cx = (L + R) / 2
    annotations.append(dict(text=P["title"], x=px_x(cx), y=px_y(rt - 12), xref="paper", yref="paper",
                            showarrow=False, xanchor="center", yanchor="middle",
                            font=dict(family=FONT, size=15.5, color="#111111")))
    annotations.append(dict(text=f"<b>{P['tag']}</b>", x=px_x(P["tagpos"][0]), y=px_y(P["tagpos"][1]),
                            xref="paper", yref="paper", showarrow=False, xanchor="center", yanchor="middle",
                            font=dict(family="Liberation Sans", size=27, color="#000000")))
    annotations.append(dict(text="1e\u22122", x=px_x(L + 1), y=px_y(rt - 7), xref="paper", yref="paper",
                            showarrow=False, xanchor="left", yanchor="middle",
                            font=dict(family=FONT, size=9.5, color="#222222")))
    annotations.append(dict(text="Obs-Fit", x=px_x(L - 38), y=px_y((rt + rb) / 2), xref="paper",
                            yref="paper", showarrow=False, textangle=-90, xanchor="center",
                            yanchor="middle", font=dict(family=FONT, size=14, color="#222222")))
    annotations.append(dict(text="Transmission", x=px_x(L - P["tdx"]), y=px_y((tt + tb) / 2), xref="paper",
                            yref="paper", showarrow=False, textangle=-90, xanchor="center",
                            yanchor="middle", font=dict(family=FONT, size=14, color="#222222")))

layout["annotations"] = annotations
layout["shapes"] = shapes
fig.update_layout(**layout)
fig.write_html("out.html")
